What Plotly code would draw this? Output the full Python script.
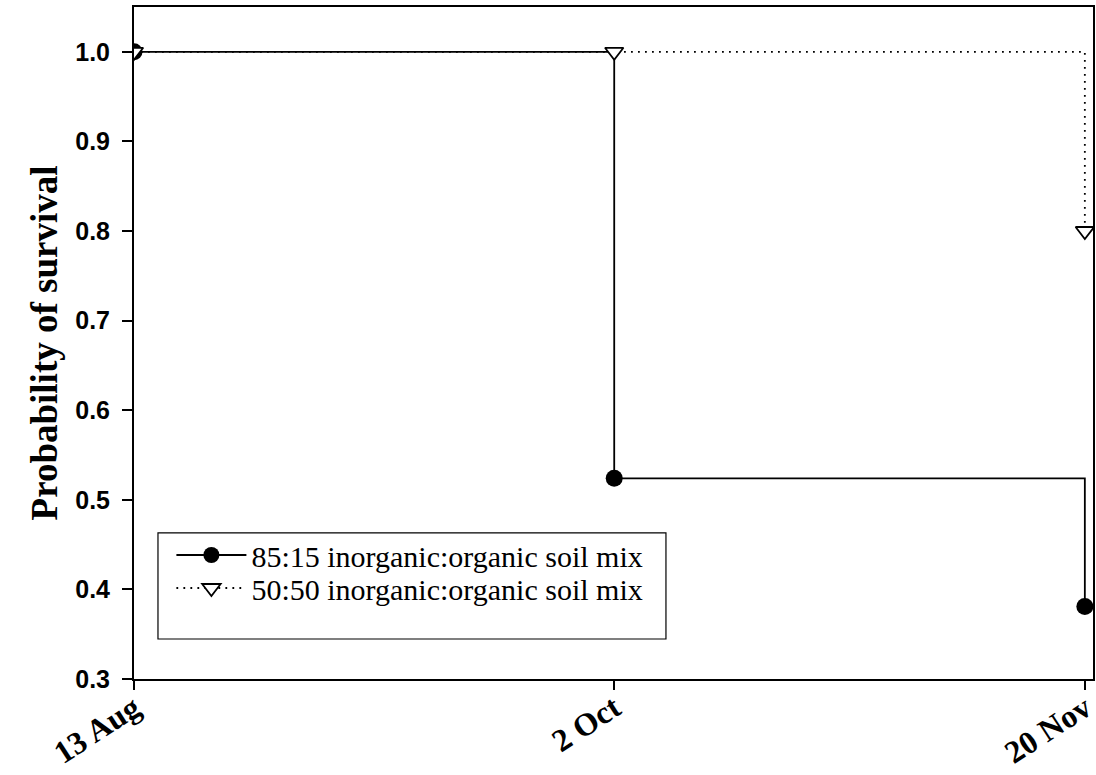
import plotly.graph_objects as go

# Days since 13 Aug
days = [0, 50, 99]
tick_labels = ["13 Aug", "2 Oct", "20 Nov"]
surv_85_15 = [1.0, 0.524, 0.381]
surv_50_50 = [1.0, 1.0, 0.8]
names = ["85:15 inorganic:organic soil mix", "50:50 inorganic:organic soil mix"]

fig = go.Figure()
fig.add_trace(go.Scatter(
    x=days, y=surv_85_15, name=names[0], mode="lines+markers", legend="legend",
    line=dict(shape="hv", color="black", width=1.8),
    marker=dict(symbol="circle", size=17, color="black"),
))
fig.add_trace(go.Scatter(
    x=days, y=surv_50_50, name=names[1], mode="lines+markers", legend="legend2",
    line=dict(shape="hv", color="black", width=1.8, dash="1.8px,5.2px"),
    marker=dict(symbol="triangle-down", size=16, color="white",
                line=dict(color="black", width=1.8)),
))

legend_font = dict(family="Liberation Serif", size=30, color="black")
fig.update_layout(
    width=1096, height=775,
    margin=dict(l=134, r=3, t=7, b=96, autoexpand=False),
    plot_bgcolor="white", paper_bgcolor="white",
    showlegend=True,
    legend=dict(x=0.039, y=0.1845, xanchor="left", yanchor="middle",
                bgcolor="rgba(0,0,0,0)", borderwidth=0, font=legend_font,
                itemwidth=70, tracegroupgap=0),
    legend2=dict(x=0.039, y=0.1354, xanchor="left", yanchor="middle",
                 bgcolor="rgba(0,0,0,0)", borderwidth=0, font=legend_font,
                 itemwidth=70, tracegroupgap=0),
    shapes=[dict(type="rect", xref="paper", yref="paper",
                 x0=0.025, x1=0.5547, y0=0.0595, y1=0.2173,
                 line=dict(color="black", width=1.2), fillcolor="rgba(0,0,0,0)",
                 layer="above")],
)
fig.update_xaxes(
    range=[0, 99.85], tickvals=days, ticktext=tick_labels, automargin=False,
    tickangle=-33, ticks="outside", ticklen=9, tickwidth=2, tickcolor="black",
    ticklabeloverflow="allow", ticklabelstandoff=-13,
    showline=True, linecolor="black", linewidth=2, mirror=True,
    showgrid=False, zeroline=False,
    tickfont=dict(family="Liberation Serif", size=32, color="black", weight="bold"),
)
fig.update_yaxes(
    range=[0.3, 1.05], tickvals=[0.3, 0.4, 0.5, 0.6, 0.7, 0.8, 0.9, 1.0],
    tickformat=".1f", automargin=False, ticklabelstandoff=7,
    ticks="outside", ticklen=10, tickwidth=2, tickcolor="black",
    showline=True, linecolor="black", linewidth=2, mirror=True,
    showgrid=False, zeroline=False,
    tickfont=dict(family="Liberation Sans", size=25, color="black", weight="bold"),
    title=dict(text="Probability of survival",
               font=dict(family="Liberation Serif", size=37, color="black", weight="bold"),
               standoff=6),
)

fig.write_html("out.html", config={"displayModeBar": False},
               post_script="document.body.style.margin='0px';document.body.style.overflow='hidden';")
